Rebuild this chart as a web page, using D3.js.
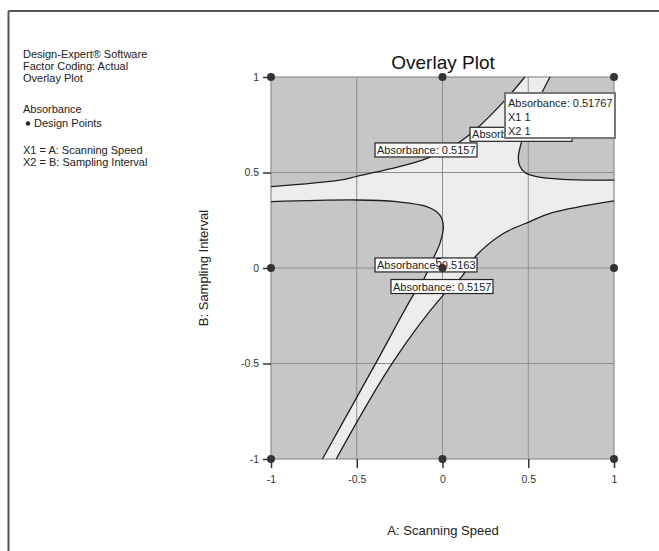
<!DOCTYPE html>
<html>
<head>
<meta charset="utf-8">
<script src="https://cdn.jsdelivr.net/npm/d3@7"></script>
<style>
  body { margin: 0; background: #fff; }
  text { font-family: "Liberation Sans", Arial, sans-serif; }
</style>
</head>
<body>
<div id="chart"></div>
<script>
// Contour boundaries (coded units, A = x, B = y)
const upperLeftEdge = [[-1, 0.426], [-0.6, 0.46], [-0.5, 0.48], [-0.3, 0.52], [-0.09, 0.574], [0.1, 0.66], [0.2, 0.73], [0.374, 0.888], [0.48, 1]];
const upperRightEdge = [[0.627, 1], [0.578, 0.915], [0.52, 0.8], [0.475, 0.7], [0.452, 0.63], [0.442, 0.58], [0.45, 0.535], [0.48, 0.5], [0.549, 0.478], [0.705, 0.464], [1, 0.46]];
const lowerRightEdge = [[1, 0.352], [0.64, 0.29], [0.51, 0.243], [0.355, 0.181], [0.2, 0.068], [0.112, -0.045], [0.005, -0.141], [-0.287, -0.49], [-0.62, -1]];
const lowerLeftEdge = [[-1, 0.347], [-0.5, 0.356], [-0.267, 0.347], [-0.092, 0.321], [-0.015, 0.277], [0.005, 0.216], [-0.015, 0.129], [-0.054, 0.05], [-0.112, -0.063], [-0.17, -0.141], [-0.384, -0.49], [-0.7, -1]];

// Design points (3x3 face-centred), centre has 5 replicates
const designPoints = [[-1, -1], [0, -1], [1, -1], [-1, 0], [0, 0], [1, 0], [-1, 1], [0, 1], [1, 1]];
const tickValues = [-1, -0.5, 0, 0.5, 1];

// Contour flags: centre position in coded units (second one is mostly hidden by the tooltip)
const flagTexts = ["Absorbance: 0.5157", "Absorb", "Absorbance: 0.5163", "Absorbance: 0.5157"];
const flagPos = [[-0.096, 0.618], [0.458, 0.7], [-0.096, 0.016], [-0.003, -0.097]];

const infoLines = ["Design-Expert\u00ae Software", "Factor Coding: Actual", "Overlay Plot"];
const tooltipLines = ["Absorbance:  0.51767", "X1  1", "X2  1"];

const W = 659, H = 551;
const plot = {left: 271, right: 614, top: 77, bottom: 459};

let svg = d3.select("#chart").append("svg")
    .attr("width", W).attr("height", H);

// outer frame (top and left only are visible)
svg.append("line").attr("x1", 8.5).attr("y1", 11).attr("x2", W).attr("y2", 11)
    .attr("stroke", "#555").attr("stroke-width", 2);
svg.append("line").attr("x1", 8.5).attr("y1", 11).attr("x2", 8.5).attr("y2", H)
    .attr("stroke", "#555").attr("stroke-width", 2);

let x = d3.scaleLinear().domain([-1, 1]).range([plot.left, plot.right]);
let y = d3.scaleLinear().domain([-1, 1]).range([plot.bottom, plot.top]);

// dark background = outside the overlay window
svg.append("rect")
    .attr("x", x(-1)).attr("y", y(1))
    .attr("width", x(1) - x(-1)).attr("height", y(-1) - y(1))
    .attr("fill", "#c6c6c6");

let line = d3.line().x(d => x(d[0])).y(d => y(d[1])).curve(d3.curveCatmullRom.alpha(0.5));

// light window polygon built from the four boundaries
let segs = [upperLeftEdge, upperRightEdge, lowerRightEdge, lowerLeftEdge.slice().reverse()];
let windowPath = segs.map((s, i) => {
    let p = line(s);
    return i == 0 ? p : "L" + p.slice(1);
}).join("") + "Z";
svg.append("path").attr("d", windowPath).attr("fill", "#ededed");

// grid
let grid = svg.append("g").attr("stroke", "#8e8e8e").attr("stroke-width", 1);
[-0.5, 0, 0.5].forEach(v => {
    grid.append("line").attr("x1", x(v)).attr("x2", x(v)).attr("y1", y(1)).attr("y2", y(-1));
    grid.append("line").attr("x1", x(-1)).attr("x2", x(1)).attr("y1", y(v)).attr("y2", y(v));
});
svg.append("rect")
    .attr("x", x(-1)).attr("y", y(1))
    .attr("width", x(1) - x(-1)).attr("height", y(-1) - y(1))
    .attr("fill", "none").attr("stroke", "#8e8e8e").attr("stroke-width", 1.2);

// contour lines
[upperLeftEdge, upperRightEdge, lowerRightEdge, lowerLeftEdge].forEach(s => {
    svg.append("path").attr("d", line(s))
        .attr("fill", "none").attr("stroke", "#1e1e1e").attr("stroke-width", 1.3);
});

// axes
let fmt = d => String(d);
let yAxis = svg.append("g").attr("transform", `translate(${plot.left},0)`)
    .call(d3.axisLeft(y).tickValues(tickValues).tickSize(8).tickPadding(4).tickFormat(fmt));
let xAxis = svg.append("g").attr("transform", `translate(0,${plot.bottom})`)
    .call(d3.axisBottom(x).tickValues(tickValues).tickSize(9).tickPadding(8).tickFormat(fmt));
[xAxis, yAxis].forEach(a => {
    a.select(".domain").remove();
    a.selectAll(".tick line").attr("stroke", "#333").attr("stroke-width", 1.5);
    a.selectAll(".tick text").attr("fill", "#333").style("font-size", "10.5px")
        .style("font-family", '"Liberation Sans", Arial, sans-serif');
});

// contour flags
flagTexts.forEach((t, i) => {
    let cx = x(flagPos[i][0]), cy = y(flagPos[i][1]);
    let g = svg.append("g");
    g.append("rect").attr("x", cx - 51).attr("y", cy - 7).attr("width", 102).attr("height", 14)
        .attr("fill", "#fff").attr("stroke", "#222").attr("stroke-width", 1.2);
    g.append("text").attr("x", cx - 49).attr("y", cy + 4)
        .style("font-size", "11px").attr("fill", "#222").text(t);
});

// design points
svg.selectAll("circle.dp").data(designPoints).enter().append("circle")
    .attr("class", "dp")
    .attr("cx", d => x(d[0])).attr("cy", d => y(d[1])).attr("r", 4)
    .attr("fill", "#333");
svg.append("text").attr("x", x(0) - 4).attr("y", y(0) - 1)
    .attr("text-anchor", "middle").style("font-size", "12px").attr("fill", "#222").text("5");

// tooltip at (1,1)
let tip = svg.append("g");
tip.append("rect").attr("x", 505).attr("y", 93).attr("width", 110).attr("height", 45)
    .attr("fill", "#fff").attr("stroke", "#777").attr("stroke-width", 2);
tooltipLines.forEach((t, i) => {
    tip.append("text").attr("x", 508).attr("y", 107 + i * 14)
        .style("font-size", "11px").attr("fill", "#222").text(t);
});

// titles
svg.append("text").attr("x", 443).attr("y", 69).attr("text-anchor", "middle")
    .style("font-size", "19px").attr("fill", "#111").text("Overlay Plot");
svg.append("text").attr("x", 443).attr("y", 535).attr("text-anchor", "middle")
    .style("font-size", "13px").attr("fill", "#222").text("A: Scanning Speed");
svg.append("text").attr("transform", `translate(208,268) rotate(-90)`).attr("text-anchor", "middle")
    .style("font-size", "13px").attr("fill", "#222").text("B: Sampling Interval");

// info panel
let info = svg.append("g").style("font-size", "11px").attr("fill", "#222");
infoLines.forEach((t, i) => {
    info.append("text").attr("x", 23).attr("y", 58 + i * 12).text(t);
});
info.append("text").attr("x", 23).attr("y", 113).text("Absorbance");
info.append("circle").attr("cx", 28).attr("cy", 123.5).attr("r", 2.2).attr("fill", "#222");
info.append("text").attr("x", 34).attr("y", 127).text("Design Points");
info.append("text").attr("x", 23).attr("y", 154).text("X1 = A: Scanning Speed");
info.append("text").attr("x", 23).attr("y", 166).text("X2 = B: Sampling Interval");
</script>
</body>
</html>
